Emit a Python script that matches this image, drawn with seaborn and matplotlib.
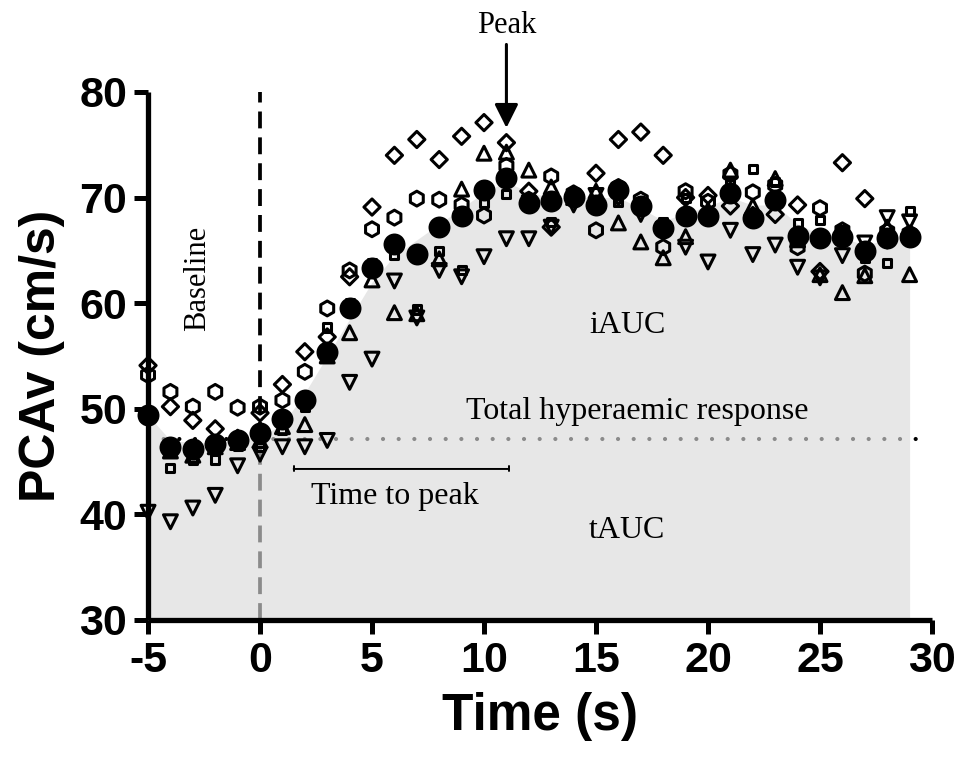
import matplotlib
matplotlib.use("Agg")
import matplotlib.pyplot as plt
import seaborn as sns

# time (s) and PCAv (cm/s)
time = list(range(-5, 30))

mean_pcav = [49.4, 46.4, 46.2, 46.7, 47.0, 47.7, 49.0, 50.8, 55.4, 59.5,
             63.3, 65.6, 64.7, 67.2, 68.3, 70.7, 71.9, 69.5, 69.7, 70.1,
             69.3, 70.7, 69.2, 67.1, 68.3, 68.3, 70.4, 68.1, 69.8, 66.4,
             66.2, 66.3, 64.9, 66.2, 66.3]
subj_diamond = [54.1, 50.2, 48.9, 48.1, 47.2, 49.6, 52.3, 55.4, 56.8, 62.5,
                69.1, 74.0, 75.5, 73.6, 75.8, 77.1, 75.2, 70.6, 67.2, 70.2,
                72.3, 75.5, 76.2, 74.0, 70.0, 70.2, 69.2, 68.3, 68.4, 69.3,
                63.0, 73.3, 69.9, 66.0, 66.5]
subj_hexagon = [53.2, 51.6, 50.2, 51.6, 50.1, 50.2, 50.8, 53.5, 59.5, 63.1,
                67.0, 68.1, 69.9, 69.8, 69.3, 68.3, 73.0, 69.8, 72.0, 70.4,
                66.9, 71.0, 69.8, 65.3, 70.6, 69.6, 72.2, 70.5, 71.2, 65.3,
                69.0, 66.9, 62.8, 66.8, 66.6]
subj_square = [49.0, 44.4, 45.2, 45.2, 46.5, 46.4, 48.0, 50.2, 57.7, 60.0,
               63.8, 64.6, 59.4, 64.9, 63.1, 69.5, 70.3, 69.8, 67.7, 70.0,
               69.8, 69.6, 68.8, 67.7, 70.0, 68.0, 71.4, 72.7, 71.5, 67.6,
               67.9, 66.9, 64.3, 63.8, 68.7]
subj_up = [49.5, 46.0, 45.6, 46.4, 46.8, 47.0, 48.3, 48.5, 55.0, 57.2,
           62.2, 59.1, 59.0, 64.2, 70.8, 74.2, 74.3, 72.6, 71.0, 70.0,
           70.6, 67.6, 65.8, 64.3, 66.3, 68.8, 72.6, 69.2, 71.8, 66.0,
           62.7, 61.0, 62.6, 67.2, 62.7]
subj_down = [40.2, 39.3, 40.6, 41.8, 44.6, 45.7, 46.4, 46.4, 47.0, 52.5,
             54.7, 62.1, 58.6, 63.1, 62.5, 64.4, 66.1, 66.1, 67.2, 69.3,
             70.2, 69.9, 68.4, 67.0, 65.3, 63.9, 66.9, 64.6, 65.5, 63.4,
             62.4, 64.5, 65.7, 68.1, 67.7]
# upper edge of the shaded area under the response
area_top = [49.4, 47.0, 46.8, 46.8, 47.0, 47.4, 48.5, 51.5, 55.0, 58.5,
            62.0, 64.5, 66.0, 67.5, 69.0, 70.5, 71.5, 70.5, 70.0, 70.0,
            70.0, 70.0, 69.0, 67.8, 68.5, 69.2, 70.0, 69.3, 69.3, 67.5,
            66.5, 66.2, 65.5, 66.0, 66.3]

baseline = 47.1
peak_time = 11

sns.set_style("ticks")
plt.rcParams["font.family"] = ["Liberation Sans", "DejaVu Sans"]
plt.rcParams["axes.unicode_minus"] = False
for key in ["text.color", "axes.labelcolor", "xtick.color", "ytick.color", "axes.edgecolor"]:
    plt.rcParams[key] = "black"
serif = ["Liberation Serif", "DejaVu Serif"]

fig = plt.figure(figsize=(9.65, 7.62), dpi=100)
ax = fig.add_axes([0.1534, 0.1864, 0.8124, 0.6929])

# reference lines (drawn under the translucent area)
ax.plot([0, 0], [30, 80], color="black", lw=2.7, ls=(0, (4.5, 2.4)), zorder=1)
ax.plot([-5, 29.8], [baseline, baseline], color="black", lw=3,
        ls=(0, (0.01, 3.75)), dash_capstyle="round", zorder=1)

ax.fill_between(time, 30, area_top, color="#dadada", alpha=0.64, lw=0, zorder=2)

# individual subjects (open markers) and mean (filled circle)
sns.scatterplot(x=time, y=mean_pcav, ax=ax, marker="o", s=250,
                color="black", edgecolor="black", linewidth=0, zorder=3, clip_on=False)
subjects = [(subj_diamond, "D", 68), (subj_hexagon, "h", 115), (subj_square, "s", 34),
            (subj_up, "^", 100), (subj_down, "v", 100)]
for vals, mk, size in subjects:
    sns.scatterplot(x=time, y=vals, ax=ax, marker=mk, s=size, facecolor="none",
                    edgecolor="black", linewidth=2.2, zorder=4, clip_on=False)

# annotations
ax.annotate("", xy=(11.1, 44.3), xytext=(1.5, 44.3),
            arrowprops=dict(arrowstyle="|-|, widthA=0.18, widthB=0.18", lw=1.4,
                            color="black", shrinkA=0, shrinkB=0), zorder=5)
fs = 23
ax.text(6.0, 41.7, "Time to peak", family=serif, fontsize=fs, ha="center", va="center")
ax.text(16.85, 49.7, "Total hyperaemic response", family=serif, fontsize=fs,
        ha="center", va="center")
ax.text(16.4, 57.9, "iAUC", family=serif, fontsize=fs, ha="center", va="center")
ax.text(16.4, 38.5, "tAUC", family=serif, fontsize=fs, ha="center", va="center")
ax.text(-2.8, 62.3, "Baseline", family=serif, fontsize=fs - 1, rotation=90,
        ha="center", va="center")
ax.annotate("", xy=(peak_time, 76.6), xytext=(peak_time, 84.5),
            arrowprops=dict(arrowstyle="-|>", mutation_scale=36, lw=2.2,
                            color="black", shrinkA=0, shrinkB=0),
            annotation_clip=False)
ax.text(peak_time, 86.3, "Peak", family=serif, fontsize=fs - 1, ha="center",
        va="center", clip_on=False)

ax.set_xlim(-5, 30)
ax.set_ylim(30, 80)
ax.set_xticks(range(-5, 31, 5))
ax.set_yticks(range(30, 81, 10))
ax.set_xlabel("Time (s)", fontsize=37, fontweight="bold", labelpad=8)
ax.set_ylabel("PCAv (cm/s)", fontsize=36, fontweight="bold", labelpad=10)
for lab in ax.get_xticklabels() + ax.get_yticklabels():
    lab.set_fontweight("bold")
ax.tick_params(labelsize=31, width=3.6, length=10, direction="out", pad=5)
sns.despine(ax=ax)
for side in ["left", "bottom"]:
    ax.spines[side].set_linewidth(3.8)
    ax.spines[side].set_capstyle("butt")

fig.savefig("out.png", dpi=100)
